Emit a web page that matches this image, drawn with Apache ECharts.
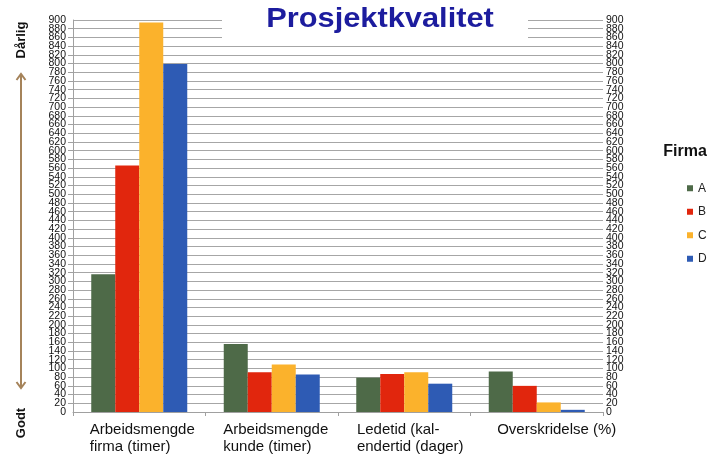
<!DOCTYPE html>
<html>
<head>
<meta charset="utf-8">
<script src="https://cdn.jsdelivr.net/npm/echarts@6/dist/echarts.min.js"></script>
<style>html,body{margin:0;padding:0;background:#fff}#c{width:715px;height:461px}</style>
</head>
<body>
<div id="c"></div>
<script>
const categories = ['Arbeidsmengde\nfirma (timer)', 'Arbeidsmengde\nkunde (timer)', 'Ledetid (kal-\nendertid (dager)', 'Overskridelse (%)'];
const seriesNames = ['A', 'B', 'C', 'D'];
const valuesA = [316, 156, 79, 93];
const valuesB = [566, 91, 87, 60];
const valuesC = [894, 109, 91, 22];
const valuesD = [799, 86, 65, 5];
const colors = ['#4e6a48', '#e1260d', '#fbb22c', '#2e5bb4'];
const yMin = 0, yMax = 900, yStep = 20;
const titleText = 'Prosjektkvalitet';
const legendTitle = 'Firma';
const topLabel = 'Dårlig';
const bottomLabel = 'Godt';

const allValues = [valuesA, valuesB, valuesC, valuesD];
const labelPad = [6, 8, 12, 40];
const rich = {};
labelPad.forEach((p, i) => {
  rich['c' + i] = { align: 'left', padding: [0, 0, 0, p], fontSize: 15, lineHeight: 17, color: '#111', fontFamily: 'Liberation Sans' };
});

const chart = echarts.init(document.getElementById('c'), null, { renderer: 'canvas' });
const axisFont = { fontFamily: 'Liberation Sans', fontSize: 10.5, color: '#111' };
const arrowColor = '#a5835a';

function yAx(pos, main, ends) {
  return {
    type: 'value', min: yMin, max: yMax, interval: ends ? (yMax - yMin) : yStep, position: pos,
    axisLine: { show: main, lineStyle: { color: '#a0a0a0' } },
    axisTick: { show: main, length: 5, lineStyle: { color: '#a0a0a0' } },
    axisLabel: Object.assign({ margin: pos === 'left' ? 7 : 3, showMinLabel: ends, showMaxLabel: ends }, axisFont),
    splitLine: { show: main, lineStyle: { color: '#a6a6a6', width: 1 } }
  };
}

chart.setOption({
  animation: false,
  backgroundColor: '#fff',
  textStyle: { fontFamily: 'Liberation Sans' },
  grid: { left: 73, top: 20, width: 530, height: 392 },
  xAxis: {
    type: 'category',
    data: categories,
    axisLine: { lineStyle: { color: '#a0a0a0' } },
    axisTick: { show: true, length: 4, lineStyle: { color: '#a0a0a0' } },
    axisLabel: {
      margin: 9,
      interval: 0,
      formatter: (v, i) => '{c' + i + '|' + v + '}',
      rich: rich
    }
  },
  yAxis: [
    yAx('left', true, false),
    yAx('right', false, false),
    yAx('left', false, true),
    yAx('right', false, true)
  ],
  legend: {
    orient: 'vertical',
    left: 682,
    top: 176,
    icon: 'rect',
    itemWidth: 6,
    itemHeight: 6,
    itemGap: 9,
    textStyle: { fontFamily: 'Liberation Sans', fontSize: 12, color: '#222', lineHeight: 14.5 },
    data: seriesNames
  },
  series: seriesNames.map((n, i) => ({
    name: n,
    type: 'bar',
    data: allValues[i],
    barWidth: 24,
    barGap: '0%',
    itemStyle: { color: colors[i] }
  })),
  graphic: [
    { type: 'rect', z: 50, shape: { x: 222, y: 0, width: 306, height: 43 }, style: { fill: '#fff' } },
    { type: 'text', z: 51, x: 380, y: 19, scaleX: 1.1, style: { text: titleText, fill: '#1c1c9e', font: 'bold 28px "Liberation Sans"', align: 'center', verticalAlign: 'middle' } },
    { type: 'text', z: 51, x: 685, y: 152, style: { text: legendTitle, fill: '#111', font: 'bold 16px "Liberation Sans"', align: 'center', verticalAlign: 'middle' } },
    { type: 'text', z: 51, x: 21, y: 40, rotation: Math.PI / 2, style: { text: topLabel, fill: '#111', font: 'bold 13px "Liberation Sans"', align: 'center', verticalAlign: 'middle' } },
    { type: 'text', z: 51, x: 21, y: 423, rotation: Math.PI / 2, style: { text: bottomLabel, fill: '#111', font: 'bold 13px "Liberation Sans"', align: 'center', verticalAlign: 'middle' } },
    { type: 'line', z: 51, shape: { x1: 21, y1: 74, x2: 21, y2: 388 }, style: { stroke: arrowColor, lineWidth: 2 } },
    { type: 'polyline', z: 51, shape: { points: [[16.5, 80], [21, 74], [25.5, 80]] }, style: { stroke: arrowColor, lineWidth: 2, fill: null } },
    { type: 'polyline', z: 51, shape: { points: [[16.5, 382], [21, 388], [25.5, 382]] }, style: { stroke: arrowColor, lineWidth: 2, fill: null } }
  ]
});
</script>
</body>
</html>
